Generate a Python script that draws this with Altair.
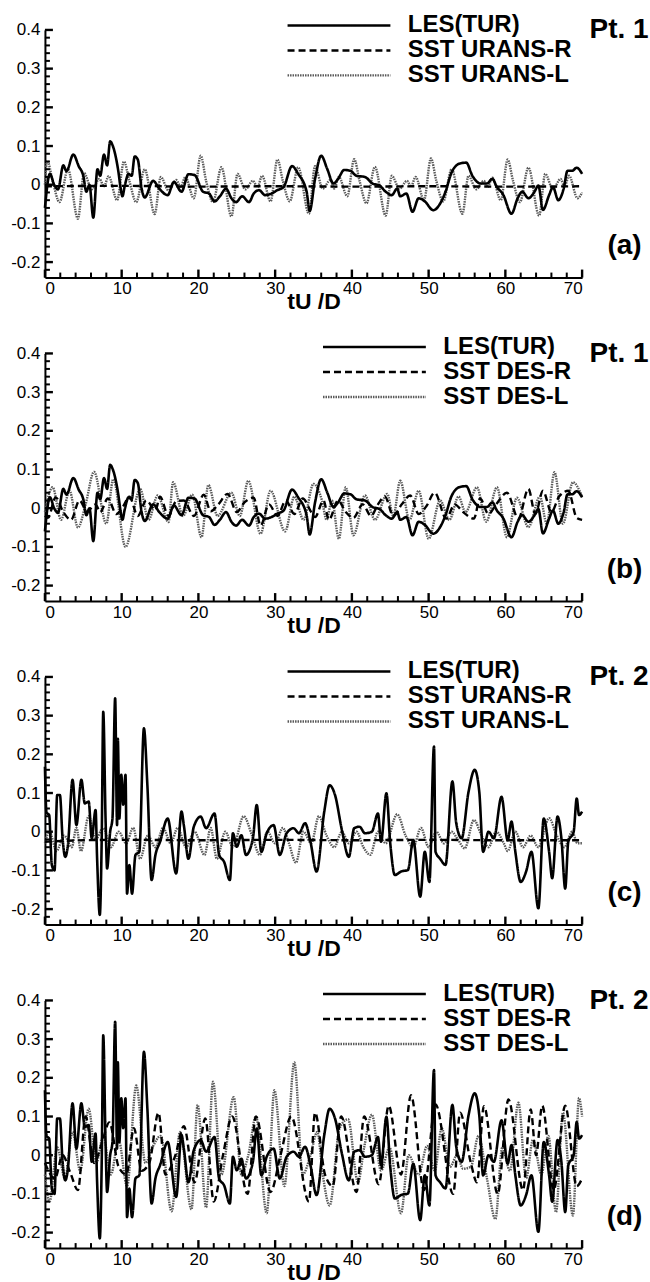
import altair as alt
import pandas as pd

# ---------------- data ----------------
LES_PT1 = [(0,-0.06),(0.65,0.028),(1.2,0.0),(1.7,-0.012),(2.4,0.05),(2.8,0.035),(3.7,0.078),(4.4,0.048),(5.0,0.023),(5.4,-0.018),(5.8,0.0),(6.3,-0.085),(6.85,0.04),(7.2,0.023),(7.7,0.078),(8.1,0.05),(8.5,0.112),(8.85,0.1),(9.3,0.065),(9.6,0.03),(9.8,0.0),(10.1,-0.03),(10.4,-0.003),(10.9,0.028),(11.3,0.023),(11.7,0.073),(12.1,0.065),(12.6,-0.01),(13.0,-0.033),(14.1,0.01),(14.9,-0.01),(16.0,-0.027),(16.8,0.007),(17.8,-0.018),(18.7,0.027),(19.5,0.025),(20.6,-0.018),(21.4,-0.023),(22.1,-0.043),(22.8,-0.03),(23.6,-0.01),(24.3,-0.035),(24.9,-0.045),(25.7,-0.03),(26.6,-0.045),(27.2,-0.023),(27.9,-0.014),(28.7,-0.027),(29.5,-0.023),(30.3,-0.014),(31.1,-0.006),(32.2,0.048),(33.0,0.028),(34.1,-0.018),(34.5,-0.068),(35.2,0.015),(36.0,0.075),(36.8,0.04),(37.6,0.003),(38.2,0.015),(39.0,0.038),(39.8,0.036),(40.6,0.023),(41.7,0.02),(42.7,0.003),(43.6,-0.002),(44.4,-0.018),(45.2,-0.027),(45.9,-0.01),(46.3,-0.03),(47.1,-0.023),(47.9,-0.07),(48.7,-0.035),(49.5,-0.043),(50.6,-0.066),(51.4,-0.052),(52.2,-0.018),(53.0,0.032),(54.1,0.055),(54.9,0.057),(55.7,0.023),(56.8,0.003),(57.6,0.003),(58.3,0.015),(58.9,-0.006),(59.7,-0.025),(60.8,-0.075),(61.6,-0.035),(62.2,-0.018),(63.0,-0.035),(63.8,-0.018),(64.3,-0.002),(64.9,-0.065),(65.7,-0.027),(66.2,-0.006),(66.9,-0.04),(67.6,-0.01),(68.1,0.036),(68.7,0.036),(69.3,0.044),(70.0,0.028)]

URANS_R_PT1 = [(0,-0.004),(10,-0.003),(20,-0.005),(30,-0.004),(40,-0.005),(50,-0.004),(60,-0.005),(70,-0.004)]

URANS_L_PT1 = [(0,0.0),(0.3,0.062),(1.0,0.01),(1.9,-0.045),(3.0,0.04),(4.3,-0.088),(5.1,0.03),(6.1,-0.012),(7.1,0.015),(7.7,-0.004),(8.3,0.022),(9.4,-0.04),
 (10.3,0.06),(11.0,0.01),(11.9,-0.045),(13.0,0.04),(14.3,-0.076),(15.1,0.02),(16.1,-0.015),(17.1,0.012),(17.7,-0.005),(18.3,0.02),(19.4,-0.035),
 (20.3,0.075),(21.0,0.01),(21.9,-0.045),(23.0,0.045),(24.3,-0.082),(25.1,0.028),(26.1,-0.012),(27.1,0.01),(27.7,-0.006),(28.3,0.023),(29.4,-0.043),
 (30.3,0.065),(31.0,0.01),(31.9,-0.043),(33.0,0.045),(34.4,-0.075),(35.2,0.048),(36.2,-0.01),(37.2,0.012),(37.7,-0.01),(38.3,0.02),(39.4,-0.03),
 (40.3,0.066),(41.0,0.01),(41.9,-0.048),(43.0,0.046),(44.4,-0.08),(45.2,0.023),(46.2,-0.01),(47.2,0.01),(47.7,-0.005),(48.3,0.02),(49.4,-0.04),
 (50.3,0.068),(51.0,0.01),(51.9,-0.043),(53.0,0.04),(54.4,-0.075),(55.2,0.023),(56.2,-0.012),(57.2,0.01),(57.7,-0.006),(58.3,0.018),(59.4,-0.04),
 (60.3,0.065),(61.0,0.01),(61.9,-0.045),(63.0,0.044),(64.4,-0.08),(65.2,0.028),(66.2,-0.012),(67.2,0.015),(67.7,-0.005),(68.3,0.023),(69.4,-0.035),(70,-0.02)]

DES_R_PT1 = [(0,-0.02),(0.4,-0.025),(1.4,0.028),(2.4,-0.01),(3.4,-0.03),(4.5,0.02),(5.5,-0.008),(6.6,0.01),(7.2,-0.01),(8.2,0.025),(9.3,-0.015),(10.2,0.005),(11.0,0.03),(12.1,-0.02),(13.2,0.02),(14.4,-0.005),(15.0,0.03),(16.1,-0.02),(17.1,0.018),(18.1,0.02),(19.4,-0.02),(20.7,0.035),(21.6,-0.008),(22.6,0.01),(23.8,0.037),(25.0,-0.01),(26.0,0.015),(27.2,0.027),(28.1,-0.045),(29.2,0.01),(30.3,-0.02),(31.4,0.02),(32.5,-0.015),(33.6,0.025),(34.7,-0.01),(35.2,-0.023),(36.3,0.02),(37.0,-0.03),(38.2,0.02),(39.2,-0.01),(40.2,-0.025),(41.4,0.01),(42.5,-0.02),(43.4,0.01),(44.3,0.03),(45.4,-0.02),(46.5,0.01),(47.6,0.033),(48.7,-0.015),(49.7,0.005),(50.8,0.04),(52.3,-0.027),(53.4,0.01),(54.5,-0.01),(55.9,-0.027),(56.7,0.025),(57.8,-0.015),(58.8,0.01),(60.2,0.04),(61.7,-0.027),(63.0,0.05),(63.9,-0.015),(64.9,0.045),(66.0,-0.01),(67.0,0.03),(68.2,0.045),(69.3,-0.025),(70,-0.03)]

DES_L_PT1 = [(0,-0.01),(1.0,0.054),(2.1,-0.03),(3.2,0.045),(4.3,-0.05),(5.3,0.01),(6.4,0.094),(8.0,-0.04),(8.9,0.075),(10.5,-0.1),(12.4,0.05),(13.5,-0.03),(14.7,0.033),(16.1,-0.036),(16.7,0.067),(18.0,-0.02),(19.2,0.035),(20.4,-0.075),(21.3,0.06),(22.5,-0.02),(24.3,0.04),(25.4,-0.02),(26.5,0.071),(28.1,-0.066),(29.4,0.045),(31.3,-0.06),(32.5,0.03),(33.7,-0.03),(35.0,0.063),(36.1,0.02),(36.7,-0.03),(37.4,0.02),(38.3,-0.079),(39.2,0.054),(40.2,-0.07),(41.7,0.033),(43.0,-0.03),(44.6,0.037),(45.4,-0.02),(46.3,0.071),(47.5,-0.03),(48.7,0.045),(50.0,-0.079),(51.5,0.02),(52.7,-0.03),(53.9,0.03),(54.8,-0.01),(56.3,0.054),(57.5,-0.035),(58.9,0.054),(60.2,-0.075),(61.5,0.027),(63.0,-0.049),(64.5,0.03),(65.4,-0.04),(66.4,0.093),(67.5,-0.04),(68.8,0.067),(70,0.03)]

LES_PT2 = [(0,0.168),(0.2,0.05),(0.55,0.043),(0.9,-0.086),(1.25,-0.1),(1.6,0.095),(1.95,0.095),(2.3,-0.017),(2.65,-0.065),(3.0,-0.034),(3.6,0.134),(4.1,0.017),(4.75,0.134),(5.2,0.073),(5.7,0.078),(6.1,-0.017),(6.6,0.056),(6.8,-0.07),(7.15,-0.215),(7.4,-0.017),(7.6,0.31),(7.9,0.034),(8.1,-0.095),(8.5,0.0),(8.8,0.034),(9.15,0.345),(9.4,0.017),(9.5,0.24),(9.7,0.034),(9.95,0.147),(10.2,0.07),(10.5,0.147),(10.7,-0.16),(11.0,-0.086),(11.35,-0.16),(11.8,-0.06),(12.3,-0.052),(12.9,0.267),(13.35,0.12),(13.9,-0.125),(14.4,-0.06),(15.0,-0.026),(16.0,0.034),(17.1,-0.108),(17.8,0.052),(18.1,0.017),(18.7,-0.07),(19.4,0.013),(20.3,0.039),(21.0,0.009),(22.1,0.047),(22.7,-0.06),(23.35,-0.078),(24.1,-0.125),(24.5,-0.004),(25.0,-0.039),(25.6,-0.009),(26.2,-0.06),(27.1,-0.017),(27.6,0.069),(28.2,-0.052),(28.9,-0.004),(29.8,0.017),(30.6,-0.06),(31.5,-0.004),(32.4,0.009),(33.1,-0.004),(33.9,0.022),(34.6,-0.026),(35.4,-0.103),(36.4,0.052),(37.1,0.12),(37.8,0.095),(38.7,0.004),(39.6,-0.065),(40.3,0.009),(41.0,0.013),(41.7,-0.004),(42.6,0.0),(43.4,0.047),(43.8,-0.026),(44.5,0.099),(45.0,-0.03),(45.6,-0.112),(46.4,-0.103),(47.3,-0.099),(48.0,-0.022),(48.9,-0.168),(49.5,-0.052),(50.1,-0.13),(50.7,0.22),(50.9,-0.052),(51.5,-0.07),(52.2,-0.086),(53.1,0.13),(53.6,0.022),(54.3,-0.017),(55.2,0.103),(56.0,0.16),(56.6,0.103),(57.1,-0.052),(57.8,0.0),(58.5,-0.017),(59.5,0.09),(60.3,-0.022),(60.8,0.026),(61.3,-0.052),(62.0,-0.13),(62.7,-0.103),(63.4,-0.052),(64.3,-0.198),(65.0,0.034),(65.7,-0.052),(66.1,-0.12),(66.8,0.039),(67.3,-0.017),(67.8,-0.147),(68.2,-0.026),(68.9,0.0),(69.3,0.086),(69.6,0.043),(70,0.052)]

URANS_R_PT2 = [(0,-0.026),(5,-0.022),(10,-0.021),(20,-0.022),(30,-0.021),(40,-0.022),(50,-0.021),(60,-0.022),(70,-0.022)]

URANS_L_PT2 = [(0,-0.03),(0.6,0.0),(1.5,-0.05),(2.5,-0.01),(3.5,-0.04),(4.1,0.01),(4.7,-0.05),(5.7,0.04),(6.6,-0.02),(7.6,0.01),(8.6,-0.04),(9.6,0.0),(10.6,-0.03),(11.5,0.01),(12.4,-0.07),(13.4,-0.01),(14.4,-0.04),(15.4,0.01),(16.4,-0.03),(17.3,0.01),(18.4,-0.04),(19.5,0.0),(20.8,-0.06),(21.6,0.01),(22.4,-0.07),(23.5,0.0),(24.5,-0.04),(25.9,0.04),(27.0,-0.01),(28.0,-0.06),(29.0,0.0),(30.0,-0.03),(31.0,0.01),(31.8,-0.03),(32.7,-0.08),(33.7,0.0),(34.7,-0.03),(35.7,0.04),(36.7,-0.01),(37.7,-0.04),(38.7,0.0),(39.6,-0.03),(40.6,0.0),(41.5,-0.04),(42.4,-0.06),(43.4,0.0),(44.4,-0.03),(45.9,0.045),(47.0,-0.01),(48.0,-0.04),(49.0,0.01),(50.0,-0.04),(51.0,0.0),(52.0,-0.03),(53.0,0.0),(53.8,-0.02),(54.7,-0.043),(55.9,0.03),(56.9,-0.01),(57.8,-0.04),(58.8,0.0),(59.8,-0.03),(60.3,-0.05),(61.3,0.0),(62.3,-0.04),(63.3,-0.01),(64.3,-0.04),(65.7,0.035),(66.7,-0.01),(67.7,-0.04),(68.7,0.0),(69.4,-0.03),(70,-0.03)]

DES_R_PT2 = [(0,-0.02),(1.3,-0.06),(2.3,0.0),(3.3,-0.045),(4.3,-0.09),(5.3,0.1),(6.4,-0.02),(7.4,0.03),(8.4,0.085),(9.6,-0.03),(10.6,-0.05),(11.6,0.07),(12.6,-0.04),(13.6,-0.02),(14.8,0.11),(15.7,-0.05),(17.0,0.0),(18.1,0.075),(19.5,-0.07),(20.9,0.095),(22.0,-0.12),(23.2,0.0),(24.4,0.1),(26.4,-0.1),(27.5,0.1),(29.4,-0.095),(30.7,0.0),(32.1,0.1),(34.4,-0.12),(35.2,0.11),(36.5,-0.05),(37.5,-0.08),(38.6,0.1),(40.6,-0.095),(41.6,0.1),(43.5,-0.075),(44.8,0.128),(46.4,-0.05),(47.7,0.155),(49.4,-0.09),(50.9,0.131),(53.2,-0.1),(54.1,0.11),(55.5,-0.02),(56.3,-0.07),(57.2,0.127),(59.0,-0.1),(60.4,0.144),(62.3,-0.09),(63.3,0.118),(64.0,0.0),(64.8,0.128),(66.3,-0.09),(67.8,0.128),(69.3,-0.08),(70,-0.06)]

DES_L_PT2 = [(0,-0.05),(0.6,-0.12),(1.6,0.02),(2.6,-0.06),(3.6,0.06),(4.6,-0.04),(5.7,0.12),(6.7,-0.02),(7.6,0.05),(8.6,-0.05),(9.6,0.04),(10.7,-0.08),(11.9,0.18),(13.1,-0.02),(14.0,0.02),(15.1,0.05),(16.5,-0.145),(17.6,0.06),(19.1,-0.14),(19.9,0.13),(21.0,-0.135),(21.9,0.19),(23.0,-0.05),(24.6,0.15),(25.6,-0.05),(26.5,0.0),(27.5,0.1),(28.9,-0.15),(29.9,0.168),(31.2,-0.08),(32.5,0.24),(33.6,-0.05),(34.6,0.0),(35.5,0.06),(36.2,-0.05),(37.1,-0.13),(38.4,0.07),(39.5,0.093),(40.8,-0.07),(41.6,0.02),(42.6,0.105),(43.8,-0.04),(44.9,0.02),(46.4,-0.15),(47.4,0.0),(48.7,-0.05),(49.8,0.024),(50.8,-0.04),(51.7,0.07),(52.8,-0.03),(53.7,0.0),(54.5,-0.035),(55.5,-0.03),(56.5,0.05),(57.6,-0.06),(58.7,-0.165),(59.6,0.02),(60.6,-0.04),(61.7,0.136),(62.7,-0.06),(63.6,0.04),(64.7,-0.05),(65.6,0.05),(66.6,-0.147),(67.5,0.11),(68.8,-0.156),(69.6,0.148),(70,0.1)]

X_MAJOR = [0, 10, 20, 30, 40, 50, 60, 70]
X_MINOR = [2, 4, 6, 8, 12, 14, 16, 18, 22, 24, 26, 28, 32, 34, 36, 38, 42, 44, 46, 48, 52, 54, 56, 58, 62, 64, 66, 68]
Y_MAJOR = [-0.2, -0.1, 0.0, 0.1, 0.2, 0.3, 0.4]
Y_MINOR = [-0.22, -0.18, -0.16, -0.14, -0.12, -0.08, -0.06, -0.04, -0.02, 0.02, 0.04, 0.06, 0.08,
           0.12, 0.14, 0.16, 0.18, 0.22, 0.24, 0.26, 0.28, 0.32, 0.34, 0.36, 0.38]

# ---------------- styling ----------------
W, H = 538, 248
FONT = "Liberation Sans"
X_SCALE = alt.Scale(domain=[0, 70], nice=False, zero=False)
Y_SCALE = alt.Scale(domain=[-0.24, 0.4], nice=False, zero=False)
Y_LABEL = "datum.value == 0 ? '0' : (datum.value < 0 ? '-' : '') + format(abs(datum.value), '.1f')"
MAJOR_LEN, MINOR_LEN = 8, 5


def frame(rows):
    return pd.DataFrame(rows, columns=["t", "v"])


def panel(les, r, l, names, point, tag, leg_x, leg_y):
    df = pd.concat([frame(les).assign(series=names[0]),
                    frame(r).assign(series=names[1]),
                    frame(l).assign(series=names[2])], ignore_index=True)
    legend = alt.Legend(orient="none", legendX=leg_x, legendY=leg_y, title=None,
                        symbolType="stroke", symbolSize=103 * 103, symbolStrokeWidth=2.5,
                        clipHeight=23, rowPadding=0, labelOffset=16, labelLimit=400,
                        labelFont=FONT, labelFontSize=24, labelFontWeight="bold",
                        labelColor="black", padding=0)
    color = alt.Color("series:N", legend=legend,
                      scale=alt.Scale(domain=names, range=["#000000", "#000000", "#5a5a5a"]))
    dash = alt.StrokeDash("series:N", legend=legend,
                          scale=alt.Scale(domain=names, range=[[1, 0], [7, 4], [1.5, 1]]))
    base = alt.Chart(df)

    # dotted series with the main labelled axes
    lay_l = base.transform_filter(alt.datum.series == names[2]).mark_line(
        strokeWidth=2.4, interpolate="monotone").encode(
        x=alt.X("t:Q", scale=X_SCALE, title="tU /D",
                axis=alt.Axis(orient="bottom", values=X_MAJOR, ticks=False,
                              labelPadding=3, domain=True, grid=False,
                              titleX=W / 2, titleY=31, titleBaseline="alphabetic",
                              titleAlign="center", titleFont=FONT, titleFontSize=23,
                              titleFontWeight="bold")),
        y=alt.Y("v:Q", scale=Y_SCALE, title=None,
                axis=alt.Axis(orient="left", values=Y_MAJOR, ticks=False,
                              labelPadding=5, labelExpr=Y_LABEL, domain=True, grid=False)),
        color=color, strokeDash=dash)

    # dashed series carrying the annotations "Pt. n" and "(x)"
    lay_r = base.transform_filter(alt.datum.series == names[1]).mark_line(
        strokeWidth=2.4, interpolate="monotone").encode(
        x=alt.X("t:Q", scale=X_SCALE, title=point,
                axis=alt.Axis(orient="top", offset=-H, values=X_MAJOR, ticks=False,
                              labels=False, domain=False, grid=False,
                              titleX=W + 66, titleY=8 - H, titleAlign="right",
                              titleBaseline="alphabetic", titleAngle=0,
                              titleFont=FONT, titleFontSize=28, titleFontWeight="bold")),
        y=alt.Y("v:Q", scale=Y_SCALE, title=tag,
                axis=alt.Axis(orient="right", offset=-W, values=Y_MAJOR, ticks=False,
                              labels=False, domain=False, grid=False,
                              titleX=W + 42, titleY=216, titleAlign="center",
                              titleBaseline="middle", titleAngle=0,
                              titleFont=FONT, titleFontSize=28, titleFontWeight="bold")),
        color=color, strokeDash=dash)

    # solid LES series on top
    lay_les = base.transform_filter(alt.datum.series == names[0]).mark_line(
        strokeWidth=2.6, interpolate="monotone").encode(
        x=alt.X("t:Q", scale=X_SCALE, axis=None),
        y=alt.Y("v:Q", scale=Y_SCALE, axis=None),
        color=color, strokeDash=dash)

    # inward ticks placed at the tick values through the same scales
    def xticks(vals, length, width):
        return alt.Chart(pd.DataFrame({"t": vals})).mark_rule(
            color="#000000", strokeWidth=width, opacity=1).encode(
            x=alt.X("t:Q", scale=X_SCALE, axis=None),
            y=alt.value(H), y2=alt.value(H - length))

    def yticks(vals, length, width):
        return alt.Chart(pd.DataFrame({"v": vals})).mark_rule(
            color="#000000", strokeWidth=width, opacity=1).encode(
            y=alt.Y("v:Q", scale=Y_SCALE, axis=None),
            x=alt.value(0), x2=alt.value(length))

    return alt.layer(lay_l, lay_r, lay_les,
                     xticks(X_MAJOR, MAJOR_LEN, 2.4), xticks(X_MINOR, MINOR_LEN, 2.0),
                     yticks(Y_MAJOR, MAJOR_LEN, 2.4), yticks(Y_MINOR, MINOR_LEN, 2.0)
                     ).resolve_axis(x="independent", y="independent").properties(width=W, height=H)


pa = panel(LES_PT1, URANS_R_PT1, URANS_L_PT1, ["LES(TUR)", "SST URANS-R", "SST URANS-L"],
           "Pt. 1", "(a)", 241.5, -16)
pb = panel(LES_PT1, DES_R_PT1, DES_L_PT1, ["LES(TUR)", "SST DES-R", "SST DES-L"],
           "Pt. 1", "(b)", 277, -18)
pc = panel(LES_PT2, URANS_R_PT2, URANS_L_PT2, ["LES(TUR)", "SST URANS-R", "SST URANS-L"],
           "Pt. 2", "(c)", 241.5, -17)
pd_ = panel(LES_PT2, DES_R_PT2, DES_L_PT2, ["LES(TUR)", "SST DES-R", "SST DES-L"],
            "Pt. 2", "(d)", 277, -18)

chart = alt.vconcat(pa, pb, pc, pd_, spacing=76, bounds="flush").resolve_scale(
    color="independent", strokeDash="independent").properties(
    padding={"left": 10, "top": 13, "right": 2, "bottom": 2},
    background="white").configure_view(stroke=None).configure_axis(
    labelFont=FONT, labelFontSize=17, labelColor="black", domainColor="black",
    domainWidth=2, titleColor="black")

chart.save("out.html", embed_options={"renderer": "svg", "actions": False})
